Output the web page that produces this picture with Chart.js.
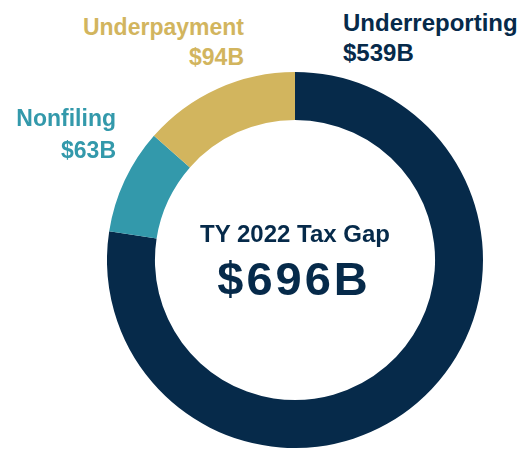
<!DOCTYPE html>
<html>
<head>
<meta charset="utf-8">
<script src="https://cdn.jsdelivr.net/npm/chart.js@4/dist/chart.umd.min.js"></script>
<style>
  html, body { margin: 0; padding: 0; background: #ffffff; }
  #page { position: relative; width: 528px; height: 449px; overflow: hidden;
          font-family: "Liberation Sans", Arial, sans-serif; font-weight: bold; }
  #zone-graphique { position: absolute; left: 107px; top: 72px; width: 376px; height: 376px; }
  .etiquette { position: absolute; white-space: nowrap; }
  #lbl-underreporting { left: 343px; top: 8px; font-size: 24px; line-height: 30px; color: #062a4a; }
  #lbl-underpayment { right: 284px; top: 12px; font-size: 23px; line-height: 30px; color: #d2b55e; text-align: right; }
  #lbl-nonfiling { right: 412px; top: 102px; font-size: 23px; line-height: 32px; color: #3399ab; text-align: right; }
  #centre-titre { position: absolute; left: 195px; width: 200px; top: 222px; text-align: center;
                  font-size: 24px; line-height: 24px; color: #062a4a; }
  #centre-total { position: absolute; left: 194px; width: 200px; top: 255px; text-align: center;
                  font-size: 47px; line-height: 47px; letter-spacing: 3px; color: #062a4a; }
</style>
</head>
<body>
<div id="page">
  <div id="zone-graphique"><canvas id="graphiqueEcart"></canvas></div>
  <div class="etiquette" id="lbl-underreporting">Underreporting<br>$539B</div>
  <div class="etiquette" id="lbl-underpayment">Underpayment<br>$94B</div>
  <div class="etiquette" id="lbl-nonfiling">Nonfiling<br>$63B</div>
  <div id="centre-titre">TY 2022 Tax Gap</div>
  <div id="centre-total">$696B</div>
</div>
<script>
// Données (milliards de dollars), dans le sens horaire depuis midi
const categories = ['Underreporting', 'Nonfiling', 'Underpayment'];
const valeurs = [539, 63, 94];
const couleurs = ['#062a4a', '#3399ab', '#d2b55e'];

const ctx = document.getElementById('graphiqueEcart').getContext('2d');
new Chart(ctx, {
    type: 'doughnut',
    data: {
        labels: categories,
        datasets: [{
            data: valeurs,
            backgroundColor: couleurs,
            borderWidth: 0,
            hoverOffset: 0
        }]
    },
    options: {
        responsive: true,
        maintainAspectRatio: false,
        animation: false,
        cutout: '74.5%',
        layout: { padding: 0 },
        plugins: {
            legend: { display: false },
            tooltip: { enabled: false }
        }
    }
});
</script>
</body>
</html>
